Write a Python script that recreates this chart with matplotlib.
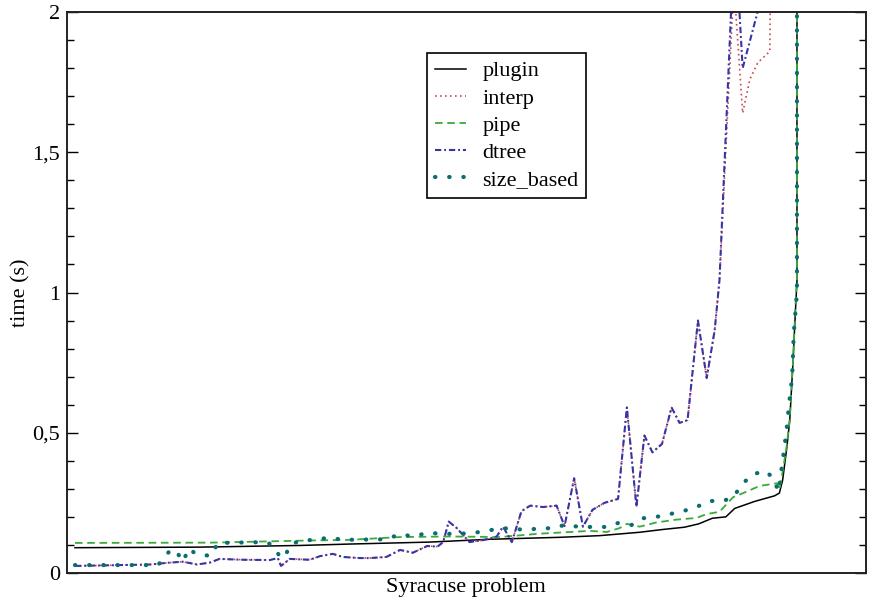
"""
Timing of the five strategies on the Syracuse problem instances.
Values are read off the reference picture (x = instance index, y = seconds).
"""

import matplotlib
matplotlib.use("Agg")
import matplotlib.pyplot as plt
import matplotlib.ticker as mticker

plt.rcParams["font.family"] = ["Liberation Serif", "DejaVu Serif"]

# ── data ─────────────────────────────────────────────────────────
PLUGIN_X = [1.0, 16.6, 29.2, 35.4, 45.4, 52.9, 61.7, 66.7, 71.7, 74.6, 77.3,
            79.1, 80.8, 82.5, 83.6, 86.1, 88.6, 89.2, 89.6, 90.1, 90.5, 90.9,
            91.2, 91.4, 91.4]
PLUGIN_Y = [0.09, 0.092, 0.098, 0.103, 0.11, 0.12, 0.127, 0.133, 0.145, 0.155,
            0.163, 0.175, 0.195, 0.20, 0.23, 0.255, 0.275, 0.285, 0.33, 0.44,
            0.545, 0.75, 0.93, 1.04, 2.5]

PIPE_X = [1.0, 17.9, 29.2, 35.4, 41.7, 47.9, 54.2, 59.2, 65.5, 67.6, 69.2, 70.1,
          71.7, 73.8, 76.3, 78.8, 80.1, 81.7, 83.4, 85.1, 86.7, 88.9, 89.2,
          89.6, 90.1, 90.5, 90.9, 91.2, 91.4, 91.4]
PIPE_Y = [0.107, 0.108, 0.115, 0.118, 0.128, 0.13, 0.128, 0.14, 0.15, 0.146,
          0.16, 0.175, 0.165, 0.18, 0.19, 0.196, 0.21, 0.218, 0.27, 0.29, 0.31,
          0.32, 0.296, 0.36, 0.45, 0.55, 0.75, 0.95, 1.05, 2.5]

# interp and dtree follow the same path until they leave the top of the plot
COMMON_X = [1.0, 10.4, 12.5, 14.5, 16.3, 17.9, 19.1, 22.0, 25.4, 26.4, 26.8,
            27.9, 30.4, 31.7, 33.3, 34.5, 36.7, 37.9, 40.0, 41.7, 43.3, 45.1,
            46.4, 47.1, 47.8, 48.8, 50.4, 52.1, 53.3, 53.8, 54.6, 55.7, 56.9,
            58.0, 59.6, 61.3, 62.3, 63.5, 64.6, 65.8, 67.3, 69.0, 70.1, 71.3,
            72.3, 73.3, 74.5, 75.7, 76.7, 77.7, 79.0, 80.1, 81.1, 81.7]
COMMON_Y = [0.025, 0.03, 0.036, 0.04, 0.03, 0.037, 0.05, 0.047, 0.046, 0.053,
            0.025, 0.05, 0.047, 0.06, 0.068, 0.057, 0.053, 0.053, 0.057, 0.082,
            0.072, 0.096, 0.094, 0.11, 0.183, 0.16, 0.11, 0.117, 0.125, 0.13,
            0.165, 0.11, 0.22, 0.24, 0.235, 0.24, 0.167, 0.338, 0.165, 0.225,
            0.25, 0.264, 0.59, 0.236, 0.49, 0.43, 0.46, 0.59, 0.535, 0.545,
            0.90, 0.695, 0.866, 1.045]
INTERP_TAIL_X = [83.5, 84.6, 85.5, 86.5, 88.0, 88.2]
INTERP_TAIL_Y = [2.1, 1.64, 1.76, 1.82, 1.86, 2.5]
DTREE_TAIL_X = [83.6, 84.6, 87.4]
DTREE_TAIL_Y = [2.3, 1.80, 2.1]

SIZE_X = [1.0, 11.4, 12.9, 13.6, 14.5, 15.3, 16.0, 18.0, 18.9, 25.0, 25.9, 26.7,
          27.3, 27.9, 29.2, 30.9, 32.9, 34.5, 39.9, 41.7, 43.4, 45.2, 46.9,
          50.4, 51.9, 53.7, 55.4, 57.3, 58.9, 60.9, 62.3, 64.0, 65.5, 67.5,
          69.0, 70.7, 72.1, 73.8, 75.5, 77.1, 78.8, 80.5, 82.0, 83.4, 84.5,
          85.7, 87.4, 88.4, 89.1, 89.6, 90.1, 90.4, 90.8, 91.0, 91.4, 91.4]
SIZE_Y = [0.028, 0.028, 0.08, 0.082, 0.04, 0.088, 0.07, 0.06, 0.107, 0.11,
          0.095, 0.055, 0.057, 0.10, 0.115, 0.118, 0.126, 0.118, 0.12, 0.138,
          0.13, 0.144, 0.139, 0.141, 0.147, 0.156, 0.16, 0.153, 0.158, 0.16,
          0.171, 0.165, 0.164, 0.164, 0.178, 0.171, 0.195, 0.20, 0.21, 0.22,
          0.235, 0.257, 0.255, 0.27, 0.314, 0.35, 0.364, 0.34, 0.29, 0.40,
          0.51, 0.60, 0.70, 0.855, 1.0, 2.5]

Y_TICKS = [0, 0.5, 1, 1.5, 2]
Y_TICK_LABELS = ["0", "0,5", "1", "1,5", "2"]

# ── figure ───────────────────────────────────────────────────────
fig = plt.figure(figsize=(8.7, 6.05), dpi=100)
ax = fig.add_axes([0.077, 0.053, 0.918, 0.927])

ax.plot(PLUGIN_X, PLUGIN_Y, color="black", lw=1.1, label="plugin")
ax.plot(COMMON_X + INTERP_TAIL_X, COMMON_Y + INTERP_TAIL_Y, color="#c94a4a",
        lw=1.2, ls=(0, (1, 2)), label="interp")
ax.plot(PIPE_X, PIPE_Y, color="#3aaa3a", lw=1.3, ls=(0, (4.2, 2.6)), label="pipe")
ax.plot(COMMON_X + DTREE_TAIL_X, COMMON_Y + DTREE_TAIL_Y, color="#3535a8",
        lw=1.5, ls=(0, (3, 1.4, 0.9, 1.4)), label="dtree")
ax.plot(SIZE_X, SIZE_Y, color="#0b6e6e", lw=3, ls=(0, (0.1, 3.3)),
        dash_capstyle="round", label="size_based")

ax.set_xlim(0, 100)
ax.set_ylim(0, 2)
ax.set_xticks([])
ax.set_yticks(Y_TICKS)
ax.set_yticklabels(Y_TICK_LABELS)
ax.yaxis.set_minor_locator(mticker.MultipleLocator(0.1))
ax.tick_params(axis="y", which="both", direction="in", left=True, right=True,
               labelsize=16, pad=5)
ax.tick_params(axis="y", which="major", length=8, width=1)
ax.tick_params(axis="y", which="minor", length=5, width=1)
for sp in ax.spines.values():
    sp.set_linewidth(1.4)
    sp.set_color("#222222")

ax.set_xlabel("Syracuse problem", fontsize=16, labelpad=4)
ax.set_ylabel("time (s)", fontsize=16, labelpad=1)

leg = ax.legend(loc="upper left", bbox_to_anchor=(0.4506, 0.927), fontsize=16,
                frameon=True, fancybox=False, edgecolor="black", framealpha=1,
                handlelength=1.4, handletextpad=0.75, labelspacing=0.3,
                borderpad=0.35, borderaxespad=0)
leg.get_frame().set_linewidth(1.2)

fig.savefig("out.png", dpi=100)
